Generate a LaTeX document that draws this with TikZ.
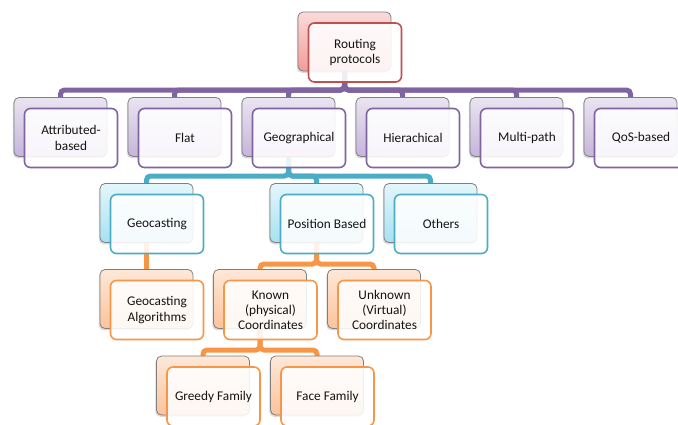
\documentclass[tikz,border=0pt]{standalone}
\usepackage{fontspec}
\setmainfont{Carlito}
\usetikzlibrary{calc,shadows}

% scheme colours
\definecolor{redln}{HTML}{C0504D}
\definecolor{redtop}{HTML}{FBDADA}
\definecolor{redbot}{HTML}{F29C9A}
\definecolor{purln}{HTML}{8064A2}
\definecolor{purtop}{HTML}{EAE4F1}
\definecolor{purbot}{HTML}{C5B5DB}
\definecolor{tealln}{HTML}{4BACC6}
\definecolor{tealtop}{HTML}{E4F6FB}
\definecolor{tealbot}{HTML}{A6E1F1}
\definecolor{orgln}{HTML}{F79646}
\definecolor{orgtop}{HTML}{FDE8D8}
\definecolor{orgbot}{HTML}{FBC39C}
\definecolor{backedge}{HTML}{7F7F7F}

\tikzset{
  x=1pt, y=-1pt,
  backbox/.style={rectangle, rounded corners=5pt, minimum width=93pt,
    minimum height=59pt, inner sep=0pt, draw=backedge, line width=0.8pt,
    drop shadow={shadow xshift=-1.2pt, shadow yshift=-1.8pt, opacity=0.3}},
  frontbox/.style={rectangle, rounded corners=6pt, minimum width=93pt,
    minimum height=59pt, inner sep=2pt, line width=1.6pt, fill=white,
    fill opacity=0.88, text opacity=1, align=center, text=black!92,
    font=\fontsize{13.3}{15.2}\selectfont},
  redback/.style={top color=redtop, bottom color=redbot},
  redfront/.style={draw=redln},
  purback/.style={top color=purtop, bottom color=purbot},
  purfront/.style={draw=purln},
  tealback/.style={top color=tealtop, bottom color=tealbot},
  tealfront/.style={draw=tealln},
  orgback/.style={top color=orgtop, bottom color=orgbot},
  orgfront/.style={draw=orgln},
  link/.style={line width=5pt, rounded corners=4pt},
}

% an entry: shaded card behind, outlined card with the label in front
% #1 name, #2 centre of the back card, #3 colour scheme, #4 label
\newcommand{\hitem}[4]{%
  \node[backbox, #3back] (#1-b) at #2 {};
  \node[frontbox, #3front] (#1) at ($(#1-b.center)+(10.5,11)$) {#4};
}

\begin{document}
\begin{tikzpicture}
\useasboundingbox (0,0) rectangle (678,424);
\clip (0,0) rectangle (678,424);

% level rails
\coordinate (rail1) at (0,90);
\coordinate (rail2) at (0,176);
\coordinate (rail3) at (0,264);
\coordinate (rail4) at (0,350);

% anchor points of the cards (centres of the back cards)
\coordinate (p-root) at (344.5,41.5);
\coordinate (p-attr) at (60.5,127);
\coordinate (p-flat) at (174.5,127);
\coordinate (p-geog) at (288.5,127);
\coordinate (p-hier) at (402.5,127);
\coordinate (p-multi) at (516.5,127);
\coordinate (p-qos) at (630.5,127);
\coordinate (p-geoc) at (146.5,213);
\coordinate (p-posb) at (316.5,213);
\coordinate (p-other) at (430.5,213);
\coordinate (p-galg) at (146.5,299);
\coordinate (p-known) at (260,299);
\coordinate (p-unkn) at (374,299);
\coordinate (p-greedy) at (203,385.5);
\coordinate (p-face) at (317,385.5);

% connectors
\foreach \c in {attr,flat,geog,hier,multi,qos}
  \draw[link, purln] (p-root) |- (p-\c |- rail1) -- (p-\c);
\foreach \c in {geoc,posb,other}
  \draw[link, tealln] (p-geog) |- (p-\c |- rail2) -- (p-\c);
\draw[link, orgln] (p-geoc) -- (p-galg);
\foreach \c in {known,unkn}
  \draw[link, orgln] (p-posb) |- (p-\c |- rail3) -- (p-\c);
\foreach \c in {greedy,face}
  \draw[link, orgln] (p-known) |- (p-\c |- rail4) -- (p-\c);

% cards
\hitem{root}{(p-root)}{red}{Routing\\protocols}
\hitem{attr}{(p-attr)}{pur}{Attributed-\\based}
\hitem{flat}{(p-flat)}{pur}{Flat}
\hitem{geog}{(p-geog)}{pur}{Geographical}
\hitem{hier}{(p-hier)}{pur}{Hierachical}
\hitem{multi}{(p-multi)}{pur}{Multi-path}
\hitem{qos}{(p-qos)}{pur}{QoS-based}
\hitem{geoc}{(p-geoc)}{teal}{Geocasting}
\hitem{posb}{(p-posb)}{teal}{Position Based}
\hitem{other}{(p-other)}{teal}{Others}
\hitem{galg}{(p-galg)}{org}{Geocasting\\Algorithms}
\hitem{known}{(p-known)}{org}{Known\\(physical)\\Coordinates}
\hitem{unkn}{(p-unkn)}{org}{Unknown\\(Virtual)\\Coordinates}
\hitem{greedy}{(p-greedy)}{org}{Greedy Family}
\hitem{face}{(p-face)}{org}{Face Family}
\end{tikzpicture}
\end{document}
